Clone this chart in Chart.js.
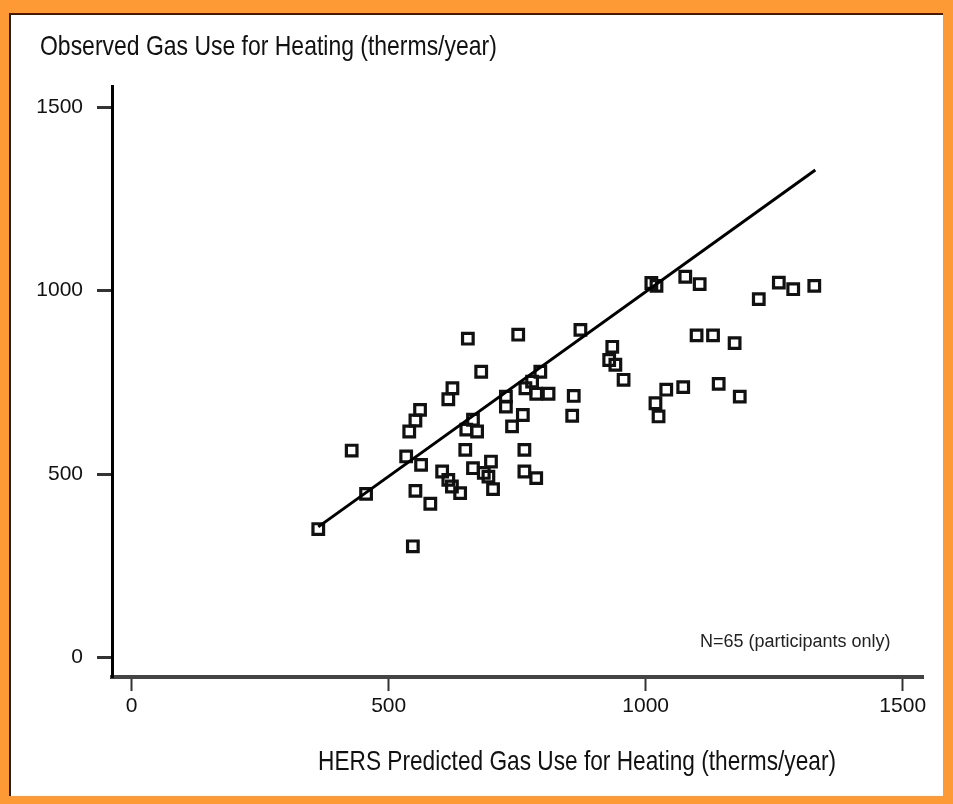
<!DOCTYPE html>
<html>
<head>
<meta charset="utf-8">
<script src="https://cdn.jsdelivr.net/npm/chart.js@4.4.1/dist/chart.umd.min.js"></script>
<style>
  html, body { margin: 0; padding: 0; }
  body { width: 953px; height: 804px; background: #FE9A36; position: relative; overflow: hidden; }
  #panel { position: absolute; left: 9px; top: 13px; width: 934px; height: 783px; background: #fff;
           border-top: 2px solid #222; border-left: 2px solid #222; box-sizing: border-box; }
  #wrap { position: absolute; left: 0; top: 0; width: 953px; height: 804px; }
  .txt { position: absolute; white-space: nowrap; color: #111;
         font-family: "Liberation Sans", Arial, sans-serif; transform-origin: 0 0; }
  #ytitle { left: 40px; top: 32px; font-size: 28px; line-height: 28px; transform: scaleX(0.82); }
  #xtitle { left: 318px; top: 747px; font-size: 28px; line-height: 28px; transform: scaleX(0.81); }
  #note { left: 700px; top: 632px; font-size: 18px; line-height: 18px; color: #222; }
</style>
</head>
<body>
<div id="panel"></div>
<div id="wrap"><canvas id="c" width="953" height="804"></canvas></div>
<div class="txt" id="ytitle">Observed Gas Use for Heating (therms/year)</div>
<div class="txt" id="xtitle">HERS Predicted Gas Use for Heating (therms/year)</div>
<div class="txt" id="note">N=65 (participants only)</div>
<script>
// HERS predicted gas use (x) and observed gas use (y), therms/year
const predicted = [363, 428, 456, 534, 540, 552, 561, 563, 552, 547,
                   581, 604, 616, 623, 639, 616, 624, 654, 680, 649,
                   651, 664, 672, 664, 685, 694, 699, 703, 728, 728,
                   740, 752, 761, 764, 764, 787, 766, 779, 795, 787,
                   811, 860, 857, 873, 935, 929, 941, 957, 1011, 1021,
                   1077, 1105, 1259, 1287, 1328, 1220, 1099, 1131, 1173, 1040,
                   1073, 1142, 1183, 1019, 1025];
const observed  = [350, 564, 446, 548, 616, 646, 675, 525, 454, 303,
                   419, 507, 484, 466, 448, 704, 734, 869, 779, 566,
                   621, 648, 616, 516, 503, 493, 534, 459, 711, 684,
                   630, 880, 661, 566, 507, 489, 734, 752, 779, 719,
                   719, 713, 659, 893, 847, 811, 798, 757, 1021, 1013,
                   1038, 1018, 1022, 1004, 1013, 977, 878, 878, 857, 730,
                   737, 746, 711, 693, 657];
// fitted line endpoints
const fitX = [363, 1330];
const fitY = [356, 1329];
// tick labels
const xTicks = [0, 500, 1000, 1500];
const yTicks = [0, 500, 1000, 1500];

const tickFont = { family: "'Liberation Sans', Arial, sans-serif", size: 21 };

new Chart(document.getElementById('c'), {
  data: {
    datasets: [
      {
        type: 'line',
        data: fitX.map((x, i) => ({ x: x, y: fitY[i] })),
        borderColor: '#000',
        borderWidth: 3,
        pointRadius: 0,
        fill: false
      },
      {
        type: 'scatter',
        data: predicted.map((x, i) => ({ x: x, y: observed[i] })),
        pointStyle: 'rect',
        pointRadius: 7.5,
        pointHoverRadius: 7.5,
        borderColor: '#111',
        backgroundColor: 'rgba(0,0,0,0)',
        borderWidth: 3.2
      }
    ]
  },
  options: {
    responsive: false,
    animation: false,
    events: [],
    layout: { padding: { left: 0, top: 86, right: 30, bottom: 0 } },
    plugins: { legend: { display: false }, tooltip: { enabled: false }, title: { display: false } },
    scales: {
      x: {
        type: 'linear',
        min: -38.3,
        max: 1539.5,
        afterBuildTicks: s => { s.ticks = xTicks.map(v => ({ value: v })); },
        afterFit: s => { s.height = 127; },
        grid: { drawOnChartArea: false, drawTicks: true, tickLength: 14, tickWidth: 2, tickColor: '#333' },
        border: { display: true, width: 4, color: '#444' },
        ticks: { font: tickFont, color: '#111', padding: 3, maxRotation: 0, autoSkip: false,
                 callback: v => String(v) }
      },
      y: {
        type: 'linear',
        min: -53.4,
        max: 1558.1,
        afterBuildTicks: s => { s.ticks = yTicks.map(v => ({ value: v })); },
        afterFit: s => { s.width = 112; },
        grid: { drawOnChartArea: false, drawTicks: true, tickLength: 15, tickWidth: 3, tickColor: '#333' },
        border: { display: true, width: 3, color: '#000' },
        ticks: { font: tickFont, color: '#111', padding: 14, autoSkip: false,
                 callback: v => String(v) }
      }
    }
  }
});
</script>
</body>
</html>
